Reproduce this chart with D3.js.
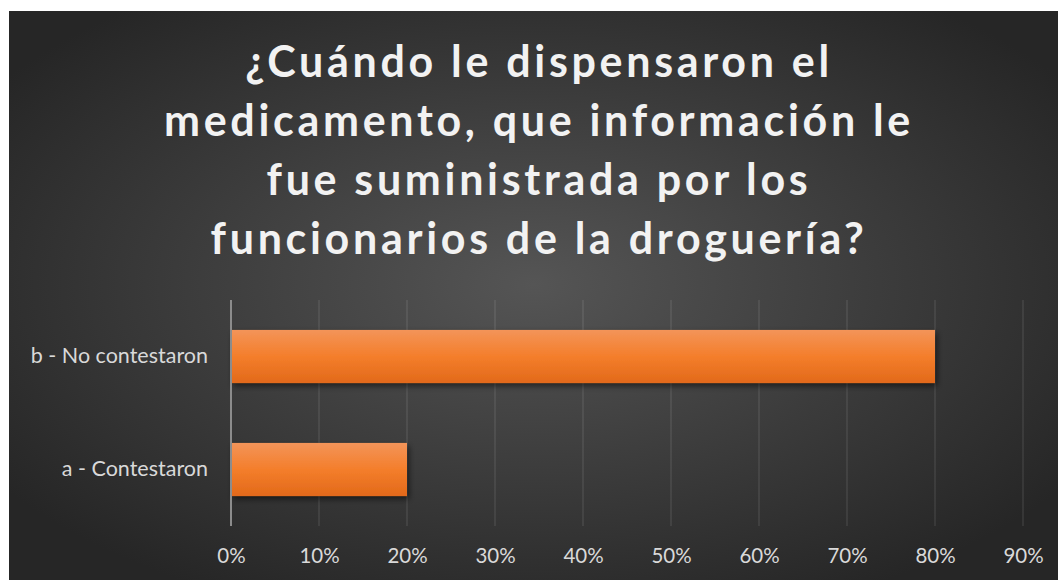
<!DOCTYPE html>
<html><head><meta charset="utf-8">
<script src="https://cdn.jsdelivr.net/npm/d3@7"></script>
<style>
html,body{margin:0;padding:0;background:#fff;}
svg{display:block;}
</style></head>
<body>
<svg id="chart" width="1058" height="580"></svg>
<script>
const titleLines = ["¿Cuándo le dispensaron el", "medicamento, que información le", "fue suministrada por los", "funcionarios de la droguería?"];
const categories = ["b - No contestaron", "a - Contestaron"];
const values = [0.80, 0.20];
const tickValues = [0, 0.1, 0.2, 0.3, 0.4, 0.5, 0.6, 0.7, 0.8, 0.9];

const svg = d3.select("#chart");
const W = 1058, H = 580;
const defs = svg.append("defs");
const FONT = "Lato, 'Open Sans', sans-serif";

const bg = defs.append("radialGradient").attr("id","bg").attr("cx","50%").attr("cy","48%").attr("r","62%");
bg.append("stop").attr("offset","0%").attr("stop-color","#555555");
bg.append("stop").attr("offset","100%").attr("stop-color","#262626");

const bar = defs.append("linearGradient").attr("id","bar").attr("x1","0").attr("y1","0").attr("x2","0").attr("y2","1");
bar.append("stop").attr("offset","0%").attr("stop-color","#f39459");
bar.append("stop").attr("offset","50%").attr("stop-color","#f47e2b");
bar.append("stop").attr("offset","100%").attr("stop-color","#e2691a");

const sh = defs.append("filter").attr("id","shadow").attr("x","-10%").attr("y","-30%").attr("width","130%").attr("height","180%");
sh.append("feDropShadow").attr("dx",2).attr("dy",3).attr("stdDeviation",3).attr("flood-color","#000").attr("flood-opacity",0.55);

svg.append("rect").attr("x",9).attr("y",11).attr("width",W-9).attr("height",H-11).attr("fill","url(#bg)");

// Title
const title = svg.append("g");
const baselines = [77, 136, 195, 254];
const titleEls = titleLines.map((t,i)=> title.append("text")
    .attr("x", 539).attr("y", baselines[i])
    .attr("text-anchor","middle")
    .attr("font-family", FONT)
    .attr("font-weight","bold")
    .attr("font-size", 43)
    .attr("fill","#f2f2f2")
    .text(t));
// letter spacing chosen so the widest line spans ~750px as in the reference
const n2 = titleLines[1].length;
const w2 = titleEls[1].node().getComputedTextLength();
const ls = Math.max(0, (750 - w2) / n2);
titleEls.forEach(e=>e.attr("letter-spacing", ls));

const x0 = 231, x1 = 1023;
const x = d3.scaleLinear().domain([0,0.9]).range([x0,x1]);
const y = d3.scaleBand().domain(categories).range([300,526]).paddingInner(0.53).paddingOuter(0.265);

// gridlines
svg.append("g").selectAll("line").data(tickValues.filter(d=>d>0)).join("line")
  .attr("x1",d=>x(d)).attr("x2",d=>x(d)).attr("y1",300).attr("y2",526)
  .attr("stroke","#ffffff").attr("stroke-opacity",0.1).attr("stroke-width",1.5);

// bars
svg.append("g").selectAll("rect").data(values).join("rect")
  .attr("x", x(0)).attr("y",(d,i)=>y(categories[i]))
  .attr("width", d=>x(d)-x(0)).attr("height", y.bandwidth())
  .attr("fill","url(#bar)").attr("filter","url(#shadow)");

// axis line
svg.append("line").attr("x1",x(0)).attr("x2",x(0)).attr("y1",300).attr("y2",526)
  .attr("stroke","#8c8c8c").attr("stroke-width",2);

// x axis
const xAxis = d3.axisBottom(x).tickValues(tickValues).tickFormat(d3.format(".0%")).tickSize(0).tickPadding(0);
const gx = svg.append("g").attr("transform","translate(0,548)").call(xAxis);
gx.select(".domain").remove();
gx.selectAll("text").attr("font-family",FONT).attr("font-size",20.5).attr("fill","#d9d9d9");

// y axis
const yAxis = d3.axisLeft(y).tickSize(0).tickPadding(23);
const gy = svg.append("g").attr("transform",`translate(${x0},0)`).call(yAxis);
gy.select(".domain").remove();
gy.selectAll("text").attr("font-family",FONT).attr("font-size",21.5).attr("fill","#d9d9d9");
</script>
</body></html>
